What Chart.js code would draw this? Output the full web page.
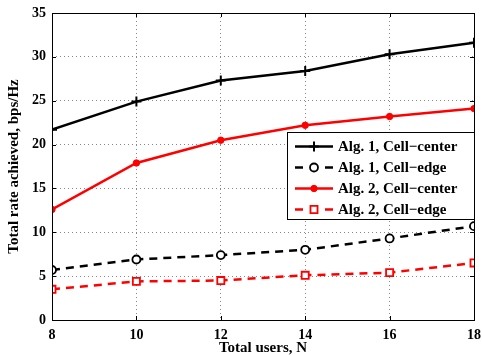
<!DOCTYPE html>
<html>
<head>
<meta charset="utf-8">
<script src="https://cdn.jsdelivr.net/npm/chart.js@4/dist/chart.umd.min.js"></script>
<style>
  html, body { margin: 0; padding: 0; background: #fff; }
  #wrap { width: 482px; height: 356px; }
</style>
</head>
<body>
<div id="wrap"><canvas id="rateChart" width="482" height="356"></canvas></div>
<script>
// data
const users = [8, 10, 12, 14, 16, 18];
const alg1Center = [21.7, 24.9, 27.3, 28.4, 30.3, 31.6];
const alg1Edge = [5.7, 6.9, 7.4, 8.0, 9.3, 10.7];
const alg2Center = [12.6, 17.9, 20.5, 22.2, 23.2, 24.1];
const alg2Edge = [3.5, 4.4, 4.5, 5.1, 5.4, 6.5];
const seriesNames = ['Alg. 1, Cell\u2212center', 'Alg. 1, Cell\u2212edge', 'Alg. 2, Cell\u2212center', 'Alg. 2, Cell\u2212edge'];
const xTicks = [8, 10, 12, 14, 16, 18];
const yTicks = [0, 5, 10, 15, 20, 25, 30, 35];

const FONT = '"Liberation Serif", "Times New Roman", serif';

function pts(ys) {
  return ys.map((y, i) => ({ x: users[i], y: y }));
}

// box around plot area, inward ticks, matlab-style legend
const framePlugin = {
  id: 'frame',
  afterDatasetsDraw(chart) {
    const { ctx, chartArea: a } = chart;
    ctx.save();
    ctx.strokeStyle = '#000';
    ctx.lineWidth = 1;
    ctx.strokeRect(a.left + 0.5, a.top + 0.5, a.right - a.left, a.bottom - a.top);

    const xs = chart.scales.x, ys = chart.scales.y;
    ctx.beginPath();
    xTicks.forEach(v => {
      const px = Math.round(xs.getPixelForValue(v)) + 0.5;
      ctx.moveTo(px, a.bottom); ctx.lineTo(px, a.bottom - 4);
      ctx.moveTo(px, a.top); ctx.lineTo(px, a.top + 4);
    });
    yTicks.forEach(v => {
      const py = Math.round(ys.getPixelForValue(v)) + 0.5;
      ctx.moveTo(a.left, py); ctx.lineTo(a.left + 4, py);
      ctx.moveTo(a.right, py); ctx.lineTo(a.right - 4, py);
    });
    ctx.stroke();

    // legend
    const w = 187, h = 87;
    const lx = a.right - w, ly = 132.5;
    ctx.fillStyle = '#fff';
    ctx.fillRect(lx, ly, w, h);
    ctx.strokeRect(lx + 0.5, ly, w, h);
    ctx.font = 'bold 15px ' + FONT;
    ctx.textBaseline = 'middle';
    chart.data.datasets.forEach((ds, i) => {
      const cy = Math.round(ly + 13 + i * 21) + 0.5;
      const x0 = lx + 8, x1 = lx + 46, xm = (x0 + x1) / 2;
      ctx.save();
      ctx.strokeStyle = ds.borderColor;
      ctx.lineWidth = ds.borderWidth;
      ctx.beginPath();
      if (ds.borderDash) {
        ctx.moveTo(x0, cy); ctx.lineTo(x0 + 8, cy);
        ctx.moveTo(x1 - 8, cy); ctx.lineTo(x1, cy);
      } else {
        ctx.moveTo(x0, cy); ctx.lineTo(x1, cy);
      }
      ctx.stroke();
      ctx.strokeStyle = ds.pointBorderColor;
      ctx.fillStyle = ds.pointBackgroundColor;
      ctx.lineWidth = ds.pointBorderWidth;
      Chart.helpers.drawPoint(ctx, {
        pointStyle: ds.pointStyle,
        radius: ds.pointRadius,
        borderWidth: ds.pointBorderWidth,
        rotation: 0
      }, xm, cy);
      ctx.restore();
      ctx.fillStyle = '#000';
      ctx.fillText(ds.label, lx + 51, cy + 1);
    });
    ctx.restore();
  }
};

new Chart(document.getElementById('rateChart'), {
  type: 'line',
  data: {
    datasets: [
      {
        label: seriesNames[0], data: pts(alg1Center),
        borderColor: '#000', borderWidth: 2.5,
        pointStyle: 'cross', pointRadius: 5, pointBorderWidth: 2,
        pointBorderColor: '#000', pointBackgroundColor: '#000'
      },
      {
        label: seriesNames[1], data: pts(alg1Edge),
        borderColor: '#000', borderWidth: 2.5, borderDash: [8, 6],
        pointStyle: 'circle', pointRadius: 4, pointBorderWidth: 1.8,
        pointBorderColor: '#000', pointBackgroundColor: '#fff'
      },
      {
        label: seriesNames[2], data: pts(alg2Center),
        borderColor: '#ff0000', borderWidth: 2.5,
        pointStyle: 'circle', pointRadius: 3.2, pointBorderWidth: 1,
        pointBorderColor: '#ff0000', pointBackgroundColor: '#ff0000'
      },
      {
        label: seriesNames[3], data: pts(alg2Edge),
        borderColor: '#ff0000', borderWidth: 2.5, borderDash: [8, 6],
        pointStyle: 'rect', pointRadius: 5, pointBorderWidth: 1.8,
        pointBorderColor: '#ff0000', pointBackgroundColor: '#fff'
      }
    ]
  },
  options: {
    responsive: false,
    animation: false,
    layout: { padding: { left: 7, right: 0, top: 3, bottom: 0 } },
    plugins: { legend: { display: false }, tooltip: { enabled: false } },
    scales: {
      x: {
        type: 'linear', min: 8, max: 18,
        afterBuildTicks: s => { s.ticks = xTicks.map(v => ({ value: v })); },
        afterFit: s => { s.paddingRight = 8; },
        grid: { color: '#888', lineWidth: 1, drawTicks: false },
        border: { display: false, dash: [1, 3] },
        ticks: { color: '#000', padding: 8, font: { family: FONT, size: 14, weight: 'bold', lineHeight: 1 } },
        title: { display: true, text: 'Total users, N', color: '#000', padding: { top: -9, bottom: 0 },
                 font: { family: FONT, size: 15, weight: 'bold', lineHeight: 1 } }
      },
      y: {
        min: 0, max: 35,
        afterBuildTicks: s => { s.ticks = yTicks.map(v => ({ value: v })); },
        grid: { color: '#888', lineWidth: 1, drawTicks: false },
        border: { display: false, dash: [1, 3] },
        ticks: { color: '#000', padding: 6, font: { family: FONT, size: 14, weight: 'bold', lineHeight: 1 } },
        title: { display: true, text: 'Total rate achieved, bps/Hz', color: '#000', padding: { top: 0, bottom: 4 },
                 font: { family: FONT, size: 15, weight: 'bold', lineHeight: 1 } }
      }
    }
  },
  plugins: [framePlugin]
});
</script>
</body>
</html>
